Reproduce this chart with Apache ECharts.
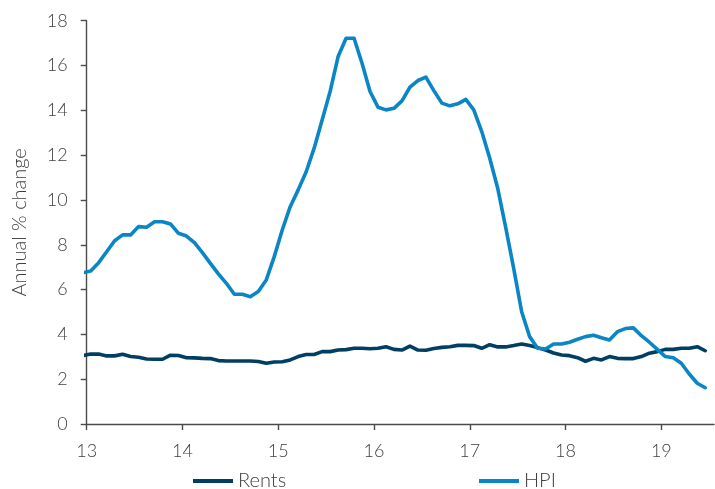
<!DOCTYPE html>
<html>
<head>
<meta charset="utf-8">
<script src="https://cdn.jsdelivr.net/npm/echarts@6/dist/echarts.min.js"></script>
<style>
  html, body { margin: 0; padding: 0; background: #ffffff; }
  #chart { width: 715px; height: 489px; }
</style>
</head>
<body>
<div id="chart"></div>
<script>
// Monthly series, Dec 2012 to Jun 2019 (annual % change)
const firstMonth = { year: 2012, month: 12 };

const rents = [
  3.05,
  3.12, 3.12, 3.04, 3.04, 3.11, 3.01, 2.98, 2.90, 2.89, 2.89, 3.07, 3.06,
  2.96, 2.95, 2.93, 2.92, 2.83, 2.81, 2.81, 2.81, 2.81, 2.79, 2.71, 2.77,
  2.78, 2.86, 3.01, 3.10, 3.10, 3.23, 3.23, 3.30, 3.32, 3.38, 3.38, 3.36,
  3.38, 3.45, 3.33, 3.30, 3.48, 3.30, 3.29, 3.37, 3.42, 3.45, 3.51, 3.51,
  3.50, 3.38, 3.54, 3.44, 3.44, 3.50, 3.57, 3.50, 3.41, 3.30, 3.17, 3.08,
  3.05, 2.96, 2.80, 2.93, 2.86, 3.01, 2.93, 2.92, 2.92, 3.01, 3.16, 3.23,
  3.33, 3.33, 3.38, 3.38, 3.45, 3.27
];

const hpi = [
  6.75,
  6.83, 7.20, 7.69, 8.18, 8.44, 8.44, 8.81, 8.78, 9.03, 9.03, 8.93, 8.51,
  8.39, 8.09, 7.65, 7.17, 6.70, 6.28, 5.79, 5.79, 5.68, 5.91, 6.43, 7.47,
  8.66, 9.70, 10.45, 11.26, 12.31, 13.57, 14.84, 16.40, 17.22, 17.22, 16.10, 14.84,
  14.14, 14.02, 14.09, 14.42, 15.03, 15.33, 15.48, 14.88, 14.32, 14.20, 14.29, 14.49,
  14.02, 13.05, 11.86, 10.52, 8.78, 6.95, 5.01, 3.90, 3.38, 3.35, 3.57, 3.57,
  3.65, 3.78, 3.90, 3.96, 3.85, 3.75, 4.12, 4.26, 4.29, 3.94, 3.65, 3.33,
  3.01, 2.96, 2.71, 2.23, 1.82, 1.62
];

const yearTicks = [13, 14, 15, 16, 17, 18, 19];
const xMin = 13;
const xMax = 19.55;

const seriesNames = ['Rents', 'HPI'];
const seriesColors = ['#003f63', '#0a86c6'];

// Each observation sits at mid-month on a two-digit-year scale
function monthPosition(i) {
  const m0 = firstMonth.month - 1 + i;
  const year = firstMonth.year + Math.floor(m0 / 12);
  const month = m0 % 12;
  return (year - 2000) + (month + 0.5) / 12;
}

function toPoints(values) {
  return values.map((v, i) => [monthPosition(i), v]);
}

const textColor = '#404040';
const fontFamily = 'Lato, "Open Sans", sans-serif';

const chart = echarts.init(document.getElementById('chart'), null, { renderer: 'canvas' });

const lineSeries = [rents, hpi].map((values, idx) => ({
  name: seriesNames[idx],
  type: 'line',
  data: toPoints(values),
  showSymbol: false,
  symbol: 'none',
  smooth: false,
  clip: true,
  color: seriesColors[idx],
  lineStyle: { width: 3.6, color: seriesColors[idx], cap: 'round', join: 'round' },
  itemStyle: { color: seriesColors[idx] },
  animation: false
}));

const legendCommon = {
  orient: 'horizontal',
  top: 466,
  icon: 'rect',
  itemWidth: 40,
  itemHeight: 4,
  itemGap: 10,
  textStyle: { color: textColor, fontSize: 20, fontFamily: fontFamily, fontWeight: 300 },
  selectedMode: false
};

chart.setOption({
  backgroundColor: '#ffffff',
  animation: false,
  grid: { left: 86.7, right: 1, top: 20.7, bottom: 65 },
  legend: [
    Object.assign({ data: [seriesNames[0]], left: 188 }, legendCommon),
    Object.assign({ data: [seriesNames[1]], left: 474 }, legendCommon)
  ],
  xAxis: {
    type: 'value',
    min: xMin,
    max: xMax,
    splitLine: { show: false },
    axisLine: { show: true, lineStyle: { color: '#4a4a4a', width: 1.4 } },
    axisTick: { show: true, length: 6, customValues: yearTicks, lineStyle: { color: '#4a4a4a', width: 1.4 } },
    axisLabel: {
      customValues: yearTicks,
      margin: 18,
      color: textColor,
      fontSize: 18,
      fontFamily: fontFamily,
      fontWeight: 300,
      formatter: v => String(Math.round(v))
    }
  },
  yAxis: {
    type: 'value',
    min: 0,
    max: 18,
    interval: 2,
    name: 'Annual % change',
    nameLocation: 'middle',
    nameGap: 57,
    nameTextStyle: { color: textColor, fontSize: 20, fontFamily: fontFamily, fontWeight: 300 },
    splitLine: { show: false },
    axisLine: { show: true, lineStyle: { color: '#4a4a4a', width: 1.4 } },
    axisTick: { show: true, length: 6, lineStyle: { color: '#4a4a4a', width: 1.4 } },
    axisLabel: { margin: 19, color: textColor, fontSize: 18, fontFamily: fontFamily, fontWeight: 300 }
  },
  series: lineSeries
});
</script>
</body>
</html>
